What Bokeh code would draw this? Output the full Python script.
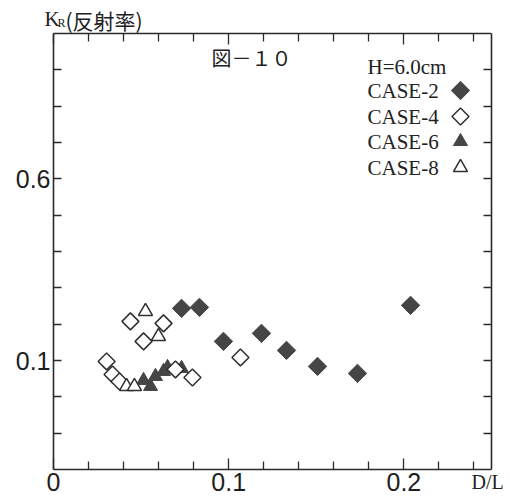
import math
from bokeh.plotting import figure
from bokeh.models import Range1d, LinearAxis, FixedTicker, Label
from bokeh.embed import file_html
from bokeh.resources import INLINE

# ---- data (D/L, K_R) ----
case2_x = [0.0731, 0.0833, 0.0970, 0.1187, 0.1330, 0.1507, 0.1735, 0.2038]
case2_y = [0.2435, 0.2463, 0.1526, 0.1747, 0.1278, 0.0837, 0.0645, 0.2518]

case4_x = [0.0303, 0.0337, 0.0377, 0.0439, 0.0514, 0.0628, 0.0696, 0.0793, 0.1067]
case4_y = [0.0975, 0.0617, 0.0424, 0.2077, 0.1526, 0.2022, 0.0755, 0.0534, 0.1085]

case6_x = [0.0514, 0.0554, 0.0582, 0.0628, 0.0651, 0.0731]
case6_y = [0.0452, 0.0287, 0.0562, 0.0700, 0.0810, 0.0782]

case8_x = [0.0417, 0.0462, 0.0525, 0.0599]
case8_y = [0.0287, 0.0287, 0.2353, 0.1664]

x_major = [0.0, 0.1, 0.2]
x_minor = [0.02, 0.04, 0.06, 0.08, 0.12, 0.14, 0.16, 0.18, 0.22, 0.24]
y_major = [0.1, 0.6]
y_minor = [-0.1, 0.0, 0.2, 0.3, 0.4, 0.5, 0.7, 0.8, 0.9]

legend_labels = ["CASE-2", "CASE-4", "CASE-6", "CASE-8"]

# ---- geometry: axis box drawn inside a full-canvas frame ----
X0, X1 = 0.0, 0.25
Y0, Y1 = -0.2, 1.0
BL, BT, BW, BH = 53, 33, 438, 436
W, H = 510, 500


def sx(px):
    return X0 + (px - BL) / BW * (X1 - X0)


def sy(py):
    return Y0 + (BT + BH - py) / BH * (Y1 - Y0)


p = figure(frame_width=W, frame_height=H, output_backend="svg",
           toolbar_location=None, min_border=0,
           x_range=Range1d(sx(0), sx(W)), y_range=Range1d(sy(H), sy(0)))
p.grid.visible = False
p.outline_line_color = None
p.background_fill_color = "white"
p.border_fill_color = "white"

ax_col = "#2a2a2a"


def style_axis(ax, major, minor, labels, loc, bounds):
    ax.fixed_location = loc
    ax.bounds = bounds
    ax.ticker = FixedTicker(ticks=major, minor_ticks=minor)
    ax.axis_line_color = ax_col
    ax.axis_line_width = 1.6
    ax.major_tick_in = 11
    ax.major_tick_out = 0
    ax.minor_tick_in = 8
    ax.minor_tick_out = 0
    ax.major_tick_line_color = ax_col
    ax.minor_tick_line_color = ax_col
    ax.major_tick_line_width = 1.3
    ax.minor_tick_line_width = 1.3
    ax.major_label_text_font = "Liberation Sans"
    ax.major_label_text_font_size = "25px"
    ax.major_label_text_color = "#1e1e1e"
    ax.major_label_standoff = 3
    if not labels:
        ax.major_label_overrides = {t: "" for t in major}


style_axis(p.xaxis[0], x_major, x_minor, True, Y0, (X0, X1))
style_axis(p.yaxis[0], y_major, y_minor, True, X0, (Y0, Y1))
p.yaxis[0].major_tick_in = 8
top = LinearAxis()
right = LinearAxis()
style_axis(top, x_major, x_minor, False, Y1, (X0, X1))
style_axis(right, y_major, y_minor, False, X1, (Y0, Y1))
right.major_tick_in = 8
p.add_layout(top, "above")
p.add_layout(right, "right")

fill_col = "#454545"
line_col = "#303030"

p.scatter(case2_x, case2_y, marker="square", angle=math.pi / 4, size=13,
          fill_color=fill_col, line_color=fill_col)
p.scatter(case6_x, case6_y, marker="triangle", size=14,
          fill_color=fill_col, line_color=fill_col)
p.scatter(case4_x, case4_y, marker="square", angle=math.pi / 4, size=12,
          fill_color="white", line_color=line_col, line_width=1.5)
p.scatter(case8_x, case8_y, marker="triangle", size=14,
          fill_color="white", line_color=line_col, line_width=1.5)

# ---- legend (text left, symbol right) ----
serif = "Liberation Serif"
p.add_layout(Label(x=sx(367), y=sy(66), text="H=6.0cm", text_font=serif,
                   text_font_size="21px", text_baseline="middle",
                   text_color="#222222"))
leg_y = [90, 116, 141, 167]
for lab, py in zip(legend_labels, leg_y):
    p.add_layout(Label(x=sx(367), y=sy(py), text=lab, text_font=serif,
                       text_font_size="21px", text_baseline="middle",
                       text_color="#222222"))
p.scatter([sx(460)], [sy(leg_y[0])], marker="square", angle=math.pi / 4, size=13,
          fill_color=fill_col, line_color=fill_col)
p.scatter([sx(460)], [sy(leg_y[1])], marker="square", angle=math.pi / 4, size=12,
          fill_color="white", line_color=line_col, line_width=1.5)
p.scatter([sx(460)], [sy(leg_y[2])], marker="triangle", size=14,
          fill_color=fill_col, line_color=fill_col)
p.scatter([sx(460)], [sy(leg_y[3])], marker="triangle", size=14,
          fill_color="white", line_color=line_col, line_width=1.5)

# ---- figure title ----
p.add_layout(Label(x=sx(211), y=sy(57), text="図－１０",
                   text_font="Noto Sans CJK JP", text_font_size="20px",
                   text_baseline="middle", text_color="#222222"))

# ---- axis titles ----
titles = [
    dict(x=sx(44), y=sy(18), text="K", text_font=serif, text_font_size="21px"),
    dict(x=sx(57), y=sy(22), text="R", text_font=serif, text_font_size="12px"),
    dict(x=sx(65), y=sy(19), text="(反射率)", text_font="Noto Sans CJK JP",
         text_font_size="21px"),
    dict(x=sx(471), y=sy(481), text="D/L", text_font=serif, text_font_size="20px"),
]
for kw in titles:
    p.add_layout(Label(text_baseline="middle", text_color="#222222", **kw))

open("out.html", "w").write(file_html(p, INLINE))
